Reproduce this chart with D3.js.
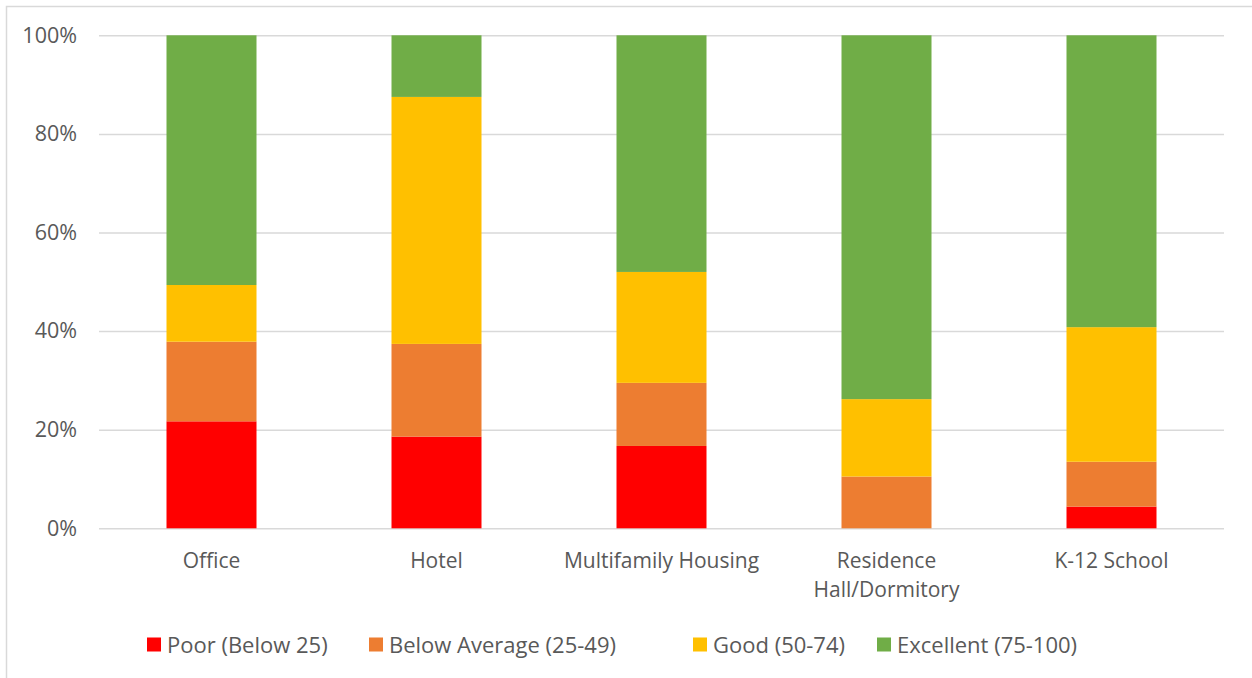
<!DOCTYPE html>
<html>
<head>
<meta charset="utf-8">
<script src="https://cdn.jsdelivr.net/npm/d3@7"></script>
<style>
  html, body { margin: 0; padding: 0; background: #fff; }
  svg { display: block; font-family: "Open Sans", sans-serif; }
</style>
</head>
<body>
<svg id="chart" width="1252" height="678"></svg>
<script>
const categories = ["Office", "Hotel", "Multifamily Housing", "Residence Hall/Dormitory", "K-12 School"];
const categoryLines = [["Office"], ["Hotel"], ["Multifamily Housing"], ["Residence", "Hall/Dormitory"], ["K-12 School"]];
const seriesNames = ["Poor (Below 25)", "Below Average (25-49)", "Good (50-74)", "Excellent (75-100)"];
const poor = [21.7, 18.6, 16.7, 0.0, 4.4];
const belowAverage = [16.15, 18.8, 12.8, 10.5, 9.1];
const good = [11.5, 50.1, 22.5, 15.7, 27.3];
const excellent = [50.65, 12.5, 48.0, 73.8, 59.2];
const yTicks = [0, 20, 40, 60, 80, 100];
const colors = ["#FF0000", "#ED7D31", "#FFC000", "#70AD47"];

const svg = d3.select("#chart");
const W = 1252, H = 678;
const plot = { left: 99, right: 1224, top: 35.3, bottom: 528.3 };

// outer border (chart area frame)
svg.append("rect").attr("x", 6.5).attr("y", 6.5).attr("width", W + 10).attr("height", H + 10)
  .attr("fill", "none").attr("stroke", "#d9d9d9").attr("stroke-width", 1.5);

const x = d3.scaleBand().domain(categories).range([plot.left, plot.right]).paddingInner(0.6).paddingOuter(0.3);
const y = d3.scaleLinear().domain([0, 100]).range([plot.bottom, plot.top]);

// gridlines
const yAxis = d3.axisLeft(y).tickValues(yTicks).tickFormat(d => d + "%").tickSize(-(plot.right - plot.left)).tickPadding(22);
const gy = svg.append("g").attr("transform", `translate(${plot.left},0)`).call(yAxis);
gy.select(".domain").remove();
gy.selectAll(".tick line").attr("stroke", "#d9d9d9").attr("stroke-width", 1.5);
gy.selectAll(".tick text").attr("fill", "#595959").style("font-size", "21.5px").style("font-family", "'Open Sans', sans-serif");

// stacked data
const table = categories.map((c, i) => ({
  cat: c,
  [seriesNames[0]]: poor[i],
  [seriesNames[1]]: belowAverage[i],
  [seriesNames[2]]: good[i],
  [seriesNames[3]]: excellent[i]
}));
const stack = d3.stack().keys(seriesNames)(table);

svg.append("g").selectAll("g").data(stack).join("g")
  .attr("fill", (d, i) => colors[i])
  .selectAll("rect").data(d => d).join("rect")
  .attr("x", d => x(d.data.cat))
  .attr("width", x.bandwidth())
  .attr("y", d => y(d[1]))
  .attr("height", d => Math.max(0, y(d[0]) - y(d[1])));

// category labels
const xl = svg.append("g");
categories.forEach((c, i) => {
  const t = xl.append("text")
    .attr("x", x(c) + x.bandwidth() / 2)
    .attr("y", 568)
    .attr("text-anchor", "middle")
    .attr("fill", "#595959")
    .style("font-size", "21px");
  categoryLines[i].forEach((line, j) => {
    t.append("tspan").attr("x", x(c) + x.bandwidth() / 2).attr("dy", j === 0 ? 0 : 29).text(line);
  });
});

// legend
const legendX = [147, 369, 693, 877];
const lg = svg.append("g");
seriesNames.forEach((s, i) => {
  lg.append("rect").attr("x", legendX[i]).attr("y", 637.5).attr("width", 14).attr("height", 14).attr("fill", colors[i]);
  lg.append("text").attr("x", legendX[i] + 20).attr("y", 652.5)
    .attr("fill", "#595959").style("font-size", "22px").text(s);
});
</script>
</body>
</html>
